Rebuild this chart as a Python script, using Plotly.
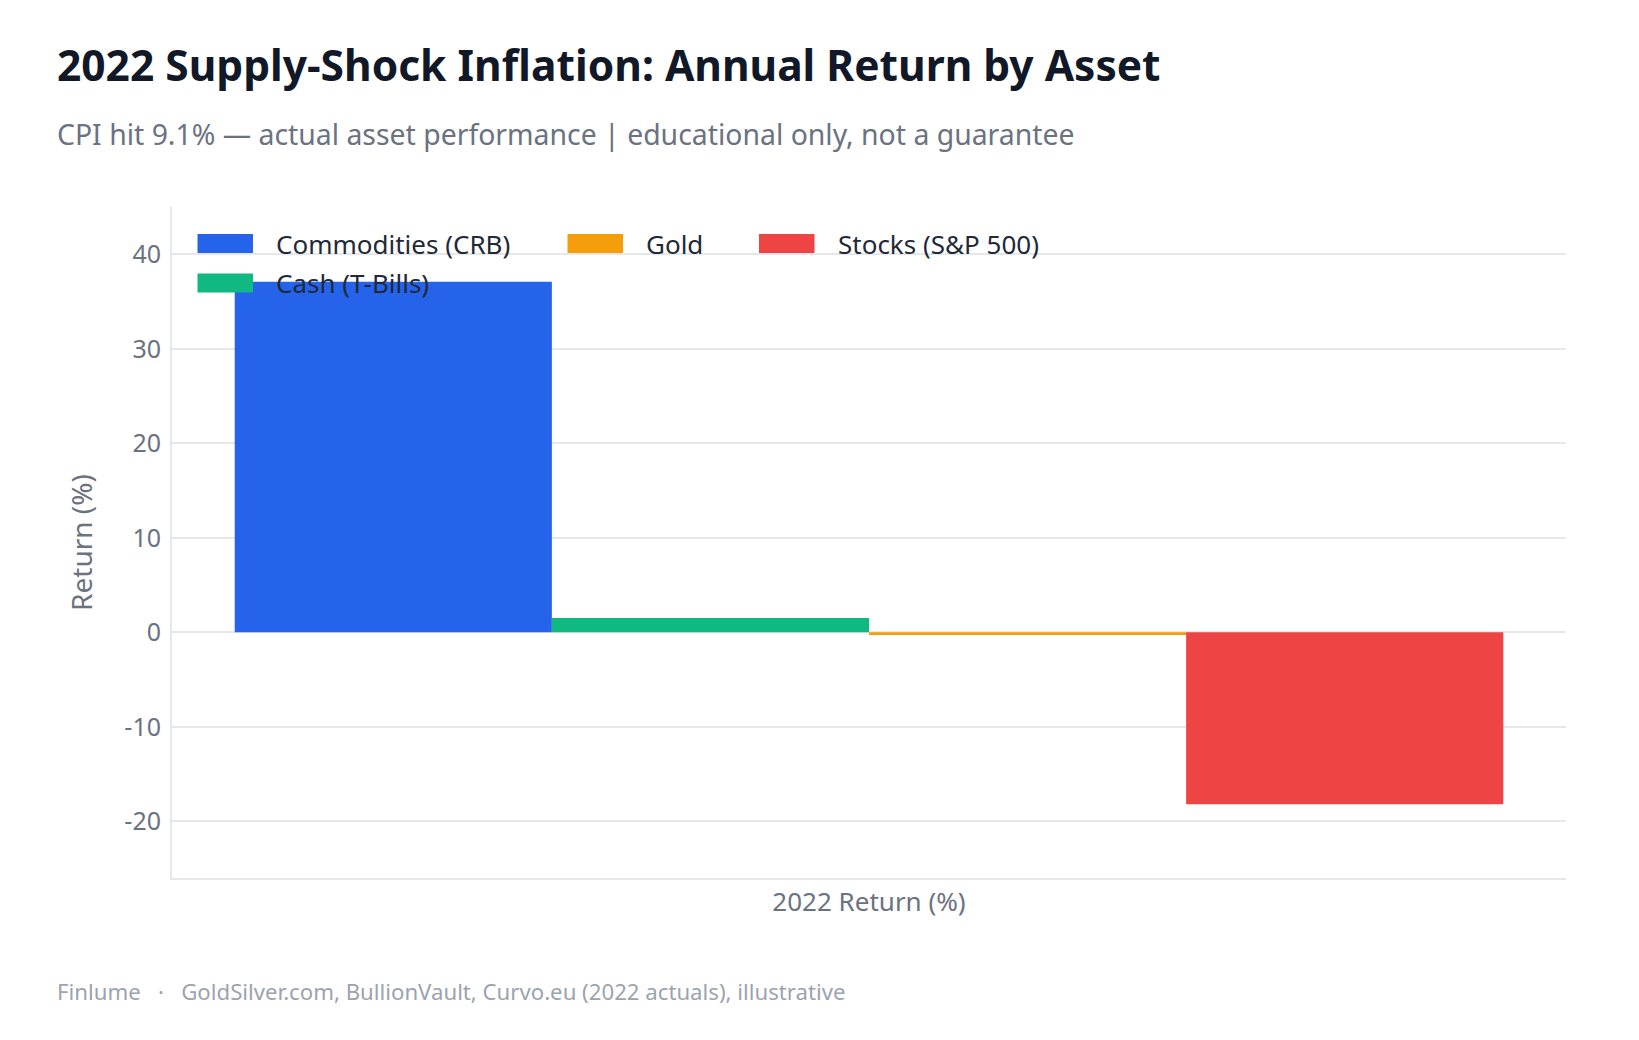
import plotly.graph_objects as go

# ---- data ----
category = ["2022 Return (%)"]
series_names = ["Commodities (CRB)", "Cash (T-Bills)", "Gold", "Stocks (S&P 500)"]
series_values = [37.1, 1.5, -0.3, -18.2]
series_colors = ["#2563eb", "#10b981", "#f59e0b", "#ef4444"]
y_tick_vals = [-20, -10, 0, 10, 20, 30, 40]
y_tick_text = ["-20", "-10", "0", "10", "20", "30", "40"]

FONT = "Segoe UI, Noto Sans, Open Sans, sans-serif"

# ---- layout geometry (pixels) ----
W, H = 1639, 1040
ML, MR, MT, MB = 172, 73, 207, 162
PW, PH = W - ML - MR, H - MT - MB


def px_x(px):
    return (px - ML) / PW


def px_y(py):
    return (H - MB - py) / PH


fig = go.Figure()
for name, val, col in zip(series_names, series_values, series_colors):
    fig.add_trace(go.Bar(
        x=category, y=[val], name=name,
        marker=dict(color=col, line=dict(width=0)),
        showlegend=False,
    ))

# ---- legend (drawn as swatches + labels, laid out like the reference) ----
legend_order = ["Commodities (CRB)", "Gold", "Stocks (S&P 500)", "Cash (T-Bills)"]
legend_x0 = [197.5, 567.5, 759.0, 197.5]
legend_yc = [243.5, 243.5, 243.5, 283.0]
SW, SH, GAP = 55.5, 19, 21

shapes = []
annotations = []
for name, x0, yc in zip(legend_order, legend_x0, legend_yc):
    col = series_colors[series_names.index(name)]
    shapes.append(dict(
        type="rect", xref="paper", yref="paper",
        x0=px_x(x0), x1=px_x(x0 + SW), y0=px_y(yc + SH / 2), y1=px_y(yc - SH / 2),
        fillcolor=col, line=dict(width=0), layer="above",
    ))
    annotations.append(dict(
        text=name, xref="paper", yref="paper",
        x=px_x(x0 + SW + GAP), y=px_y(yc), xanchor="left", yanchor="middle",
        showarrow=False, font=dict(family=FONT, size=26, color="#1f2937"),
    ))

annotations += [
    dict(text="CPI hit 9.1% — actual asset performance | educational only, not a guarantee",
         xref="paper", yref="paper", x=px_x(55), y=px_y(134), xanchor="left", yanchor="middle",
         showarrow=False, font=dict(family=FONT, size=28.4, color="#6b7280")),
    dict(text="Finlume\u00a0\u00a0\u00a0·\u00a0\u00a0\u00a0GoldSilver.com, BullionVault, Curvo.eu (2022 actuals), illustrative",
         xref="paper", yref="paper", x=px_x(55), y=px_y(991), xanchor="left", yanchor="middle",
         showarrow=False, font=dict(family=FONT, size=22.2, color="#9ca3af")),
]

fig.update_layout(
    width=W, height=H,
    barmode="group", bargap=0.09, bargroupgap=0,
    paper_bgcolor="white", plot_bgcolor="white",
    margin=dict(l=ML, r=MR, t=MT, b=MB),
    font=dict(family=FONT, color="#374151", size=22),
    showlegend=False,
    title=dict(
        text="<b>2022 Supply-Shock Inflation: Annual Return by Asset</b>",
        x=57 / W, xanchor="left", y=1 - 66 / H, yanchor="middle",
        font=dict(family=FONT, size=42.5, color="#111827"),
    ),
    xaxis=dict(
        showline=True, linecolor="#e5e7eb", linewidth=2,
        showgrid=False, ticks="",
        tickfont=dict(family=FONT, size=26, color="#6b7280"),
    ),
    yaxis=dict(
        range=[-26, 45],
        tickmode="array", tickvals=y_tick_vals, ticktext=y_tick_text,
        showline=True, linecolor="#e5e7eb", linewidth=2,
        showgrid=True, gridcolor="#e5e7eb", gridwidth=2,
        zeroline=True, zerolinecolor="#e5e7eb", zerolinewidth=2,
        ticks="", ticklabelstandoff=4,
        tickfont=dict(family=FONT, size=25, color="#6b7280"),
        title=dict(text="Return (%)", font=dict(family=FONT, size=28, color="#6b7280"), standoff=24),
    ),
    shapes=shapes,
    annotations=annotations,
)

fig.write_html("out.html")
